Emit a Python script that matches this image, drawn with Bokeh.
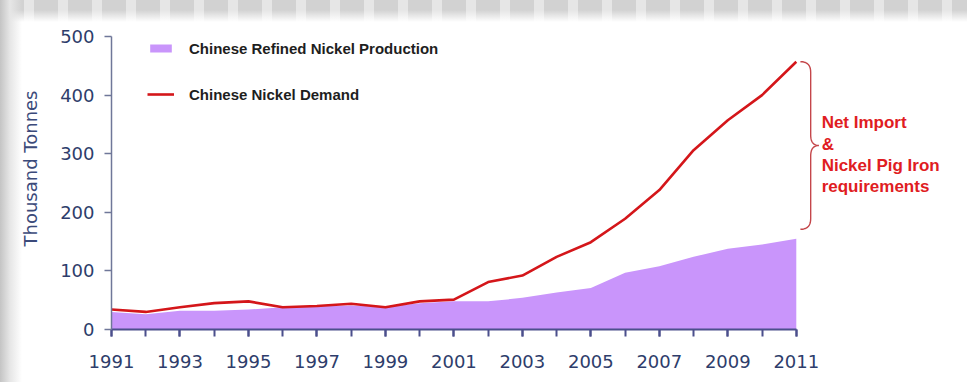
import numpy as np
from bokeh.plotting import figure
from bokeh.models import Legend, LegendItem, FixedTicker, Range1d, ColumnDataSource
from bokeh.core.properties import value
from bokeh.embed import file_html
from bokeh.resources import INLINE

# ---- data (thousand tonnes) ----
years = list(range(1991, 2012))
production = [30, 26, 32, 32, 34, 38, 40, 41, 39, 45, 48, 48, 54, 63, 71, 97, 108, 124, 138, 145, 155]
demand = [34, 30, 38, 45, 48, 38, 40, 44, 38, 48, 51, 81, 92, 124, 149, 189, 238, 306, 357, 400, 457]
x_tick_labels = [1991, 1993, 1995, 1997, 1999, 2001, 2003, 2005, 2007, 2009, 2011]
y_ticks = [0, 100, 200, 300, 400, 500]
series_names = ["Chinese Refined Nickel Production", "Chinese Nickel Demand"]
note_text = "Net Import\n&\nNickel Pig Iron\nrequirements"

PURPLE = "#c995fb"
RED = "#d4161a"
NAVY = "#2e3d6b"

p = figure(width=967, height=382, output_backend="svg", toolbar_location=None,
           x_range=Range1d(1991, 2016), y_range=Range1d(0, 549.5),
           min_border_left=111, min_border_right=0, min_border_top=7, min_border_bottom=53)
p.border_fill_color = None
p.background_fill_color = None
p.outline_line_color = None
p.grid.visible = False
p.styles = {"background": (
    "linear-gradient(to right, #c4c4c4 0px, #e6e6e6 10px, rgba(255,255,255,0) 22px) left top / 22px 100% no-repeat, "
    "linear-gradient(to bottom, rgba(255,255,255,0) 0px, rgba(255,255,255,0) 10px, #ffffff 22px) left top / 100% 22px no-repeat, "
    "repeating-linear-gradient(90deg, #d2d2d2 0px, #d2d2d2 24px, #e6e6e6 24px, #e6e6e6 34px) left top / 100% 22px no-repeat, "
    "#ffffff")}

src = ColumnDataSource(dict(x=years, prod=production, dem=demand))
area = p.varea(x="x", y1=0, y2="prod", source=src, fill_color=PURPLE, fill_alpha=1.0)
line = p.line(x="x", y="dem", source=src, line_color=RED, line_width=2.6)

# brace spanning the gap between demand and production at the last year
top = demand[-1]
bot = production[-1] + 16
mid = (top + bot) / 2.0
x_end = years[-1]
x0, x1, x2 = x_end + 0.12, x_end + 0.42, x_end + 0.66
r = 18.0

def quad(pa, pc, pb, n=12):
    t = np.linspace(0, 1, n)
    xs = (1 - t) ** 2 * pa[0] + 2 * (1 - t) * t * pc[0] + t ** 2 * pb[0]
    ys = (1 - t) ** 2 * pa[1] + 2 * (1 - t) * t * pc[1] + t ** 2 * pb[1]
    return list(xs), list(ys)

bx, by = [], []
for seg in [((x0, top), (x1, top), (x1, top - r)),
            ((x1, mid + r), (x1, mid), (x2, mid)),
            ((x2, mid), (x1, mid), (x1, mid - r)),
            ((x1, bot + r), (x1, bot), (x0, bot))]:
    xs, ys = quad(*seg)
    bx += xs
    by += ys
p.line(bx, by, line_color="#c4464a", line_width=1.4)

p.text(x=[x_end + 0.74], y=[mid - 16], text=[note_text], text_color="#e01c22",
       text_font=value("Liberation Sans"), text_font_style="bold", text_font_size="17px",
       text_baseline="middle", text_align="left", text_line_height=1.12)

# axes
xa = p.xaxis[0]
xa.ticker = FixedTicker(ticks=x_tick_labels, minor_ticks=years)
xa.bounds = (1991, 2011)
xa.axis_line_color = "#4b4f8c"
xa.axis_line_width = 2
xa.major_tick_line_color = "#4b4f8c"
xa.minor_tick_line_color = "#4b4f8c"
xa.major_tick_line_width = 2
xa.minor_tick_line_width = 2
xa.major_tick_out = 7
xa.major_tick_in = 0
xa.minor_tick_out = 7
xa.minor_tick_in = 0
xa.major_label_text_font = "DejaVu Sans"
xa.major_label_text_font_size = "18px"
xa.major_label_text_color = NAVY
xa.major_label_standoff = 18

ya = p.yaxis[0]
ya.ticker = FixedTicker(ticks=y_ticks)
ya.bounds = (0, 500)
ya.axis_line_color = "#6f7799"
ya.axis_line_width = 1.5
ya.major_tick_line_color = "#6f7799"
ya.major_tick_line_width = 1.5
ya.major_tick_out = 7
ya.major_tick_in = 0
ya.minor_tick_line_color = None
ya.major_label_text_font = "DejaVu Sans"
ya.major_label_text_font_size = "18px"
ya.major_label_text_color = NAVY
ya.major_label_standoff = 10
ya.axis_label = "Thousand Tonnes"
ya.axis_label_text_font = "DejaVu Sans"
ya.axis_label_text_font_size = "18px"
ya.axis_label_text_font_style = "normal"
ya.axis_label_text_color = "#3b4a7a"
ya.axis_label_standoff = 16

legend = Legend(items=[LegendItem(label=series_names[0], renderers=[area]),
                       LegendItem(label=series_names[1], renderers=[line])],
                location=(36, 225), margin=0, padding=0, spacing=26,
                glyph_width=27, glyph_height=10, label_height=20, label_standoff=15,
                label_text_font="Liberation Sans", label_text_font_style="bold",
                label_text_font_size="15px", label_text_color="#1e1e1e",
                border_line_color=None, background_fill_alpha=0)
p.add_layout(legend)

open("out.html", "w").write(file_html(p, INLINE))
